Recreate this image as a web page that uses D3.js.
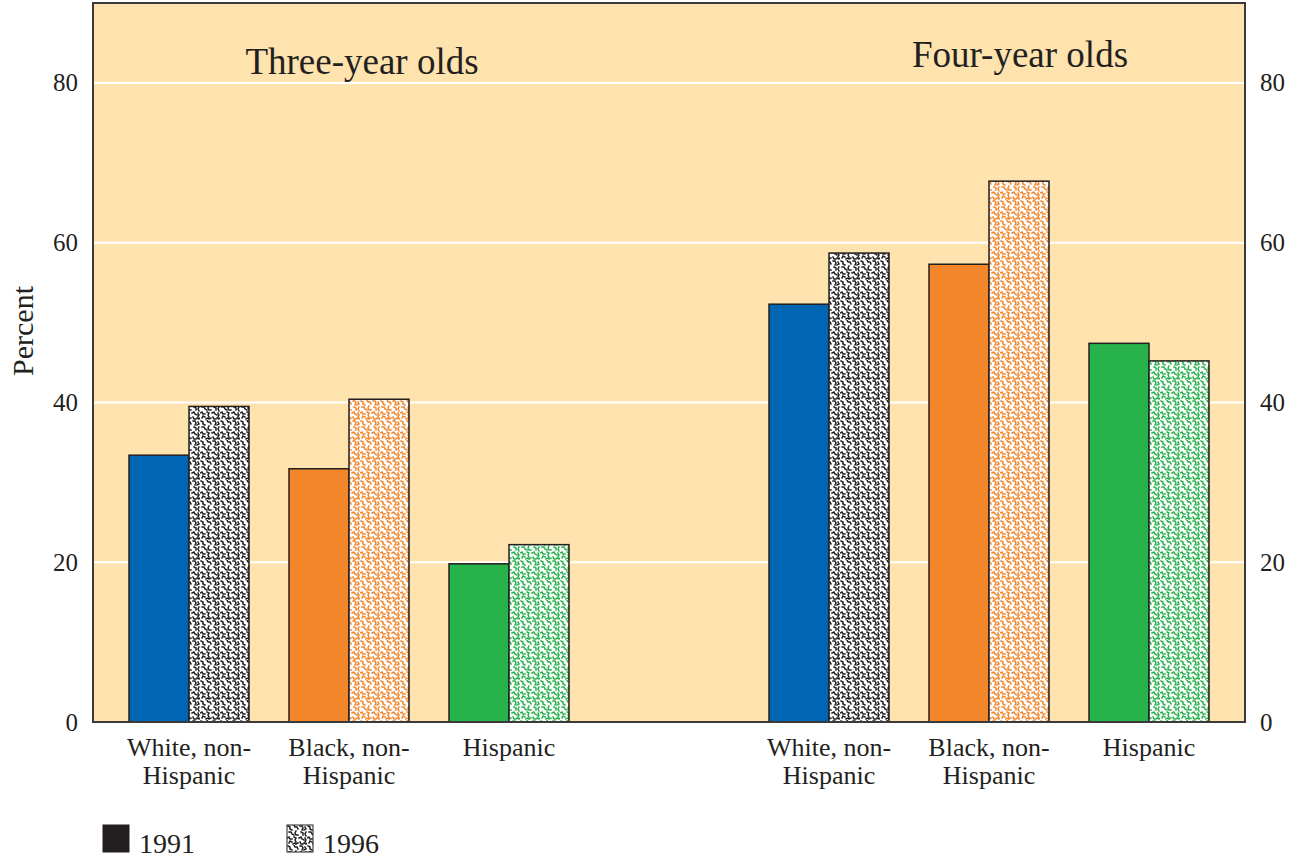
<!DOCTYPE html>
<html>
<head>
<meta charset="utf-8">
<script src="https://cdn.jsdelivr.net/npm/d3@7"></script>
<style>
  body { margin: 0; background: #fff; }
  text { font-family: "Liberation Serif", "DejaVu Serif", serif; fill: #231f20; }
</style>
</head>
<body>
<svg id="chart" width="1301" height="858"></svg>
<script>
// data
const ages = ["Three-year olds", "Four-year olds"];
const groups = ["White, non-Hispanic", "Black, non-Hispanic", "Hispanic"];
const groupLines = [["White, non-", "Hispanic"], ["Black, non-", "Hispanic"], ["Hispanic"]];
const years = ["1991", "1996"];
const three1991 = [33.4, 31.7, 19.8];
const three1996 = [39.5, 40.4, 22.2];
const four1991 = [52.3, 57.3, 47.4];
const four1996 = [58.7, 67.7, 45.2];
const yTicks = [0, 20, 40, 60, 80];
const colors = ["#0066b3", "#f3862a", "#28b24b"];
const dotColors = ["#231f20", "#f3862a", "#28b24b"];

const svg = d3.select("#chart");
const plotL = 93, plotR = 1245, plotT = 3, plotB = 722;

// slot keys, one blank slot between the two age blocks
const slots = [];
groups.forEach((g, i) => slots.push("3|" + i));
slots.push("gap");
groups.forEach((g, i) => slots.push("4|" + i));

const x = d3.scaleBand().domain(slots).range([plotL + 16, plotR - 16]).padding(0);
const y = d3.scaleLinear().domain([0, 90]).range([plotB, plotT]);
const barW = 60;

// squiggle texture for the 1996 bars
const squiggles = [
  "M1 1 l2 1 l0 2 l2 1", "M7 0 l1 2 l2 0 l1 2", "M13 1 l2 0 l1 2 l-1 2", "M18 2 l1 2 l-2 1",
  "M2 7 l2 0 l1 2 l2 1", "M9 6 l-1 2 l1 2 l2 0", "M14 7 l2 1 l0 2", "M19 7 l-1 2 l1 2",
  "M0 13 l2 -1 l1 2 l2 0", "M7 12 l2 1 l-1 2 l1 2", "M12 13 l2 -1 l1 2 l2 1", "M18 13 l1 2 l-1 2",
  "M2 18 l1 -2 l2 1", "M6 19 l2 -1 l1 1 l2 -1", "M13 17 l1 2 l2 0", "M17 18 l2 1 l1 -1"
];
const defs = svg.append("defs");
dotColors.forEach((c, i) => {
  const p = defs.append("pattern")
    .attr("id", "dots" + i)
    .attr("patternUnits", "userSpaceOnUse")
    .attr("width", 20).attr("height", 20);
  p.append("rect").attr("width", 20).attr("height", 20).attr("fill", "#fff");
  p.selectAll("path").data(squiggles).join("path")
    .attr("d", d => d)
    .attr("fill", "none")
    .attr("stroke", c)
    .attr("stroke-width", 1.5)
    .attr("stroke-linecap", "square");
});

// background
svg.append("rect")
  .attr("x", plotL).attr("y", plotT)
  .attr("width", plotR - plotL).attr("height", plotB - plotT)
  .attr("fill", "#fee3ae");

// gridlines
svg.append("g").selectAll("line").data(yTicks.filter(d => d > 0)).join("line")
  .attr("x1", plotL).attr("x2", plotR)
  .attr("y1", d => y(d)).attr("y2", d => y(d))
  .attr("stroke", "#fff").attr("stroke-width", 2);

// bars
const bars = [];
groups.forEach((g, i) => {
  bars.push({ slot: "3|" + i, year: 0, v: three1991[i], i });
  bars.push({ slot: "3|" + i, year: 1, v: three1996[i], i });
  bars.push({ slot: "4|" + i, year: 0, v: four1991[i], i });
  bars.push({ slot: "4|" + i, year: 1, v: four1996[i], i });
});
const cx = s => x(s) + x.bandwidth() / 2;
svg.append("g").selectAll("rect").data(bars).join("rect")
  .attr("x", d => d.year === 0 ? cx(d.slot) - barW : cx(d.slot))
  .attr("y", d => y(d.v))
  .attr("width", barW)
  .attr("height", d => y(0) - y(d.v))
  .attr("fill", d => d.year === 0 ? colors[d.i] : `url(#dots${d.i})`)
  .attr("stroke", "#231f20")
  .attr("stroke-width", 1.5);

// frame
svg.append("rect")
  .attr("x", plotL).attr("y", plotT)
  .attr("width", plotR - plotL).attr("height", plotB - plotT)
  .attr("fill", "none").attr("stroke", "#3a3a3a").attr("stroke-width", 2);

// y axes, both sides
const yAxisL = d3.axisLeft(y).tickValues(yTicks).tickSize(0).tickPadding(15);
const yAxisR = d3.axisRight(y).tickValues(yTicks).tickSize(0).tickPadding(15);
[svg.append("g").attr("transform", `translate(${plotL},0)`).call(yAxisL),
 svg.append("g").attr("transform", `translate(${plotR},0)`).call(yAxisR)].forEach(g => {
  g.select(".domain").remove();
  g.selectAll("text")
    .style("font-family", '"Liberation Serif", "DejaVu Serif", serif')
    .style("font-size", "25px")
    .attr("fill", "#231f20");
});

svg.append("text")
  .attr("transform", "translate(33,331) rotate(-90)")
  .attr("text-anchor", "middle")
  .style("font-size", "30px")
  .text("Percent");

// age titles
svg.append("text").attr("x", 362).attr("y", 74)
  .attr("text-anchor", "middle").style("font-size", "37px").text(ages[0]);
svg.append("text").attr("x", 1020).attr("y", 67)
  .attr("text-anchor", "middle").style("font-size", "37px").text(ages[1]);

// category labels
const labelSlots = slots.filter(s => s !== "gap");
svg.append("g").selectAll("text").data(labelSlots).join("text")
  .attr("x", d => cx(d))
  .attr("y", 756)
  .attr("text-anchor", "middle")
  .style("font-size", "26px")
  .each(function(d) {
    const lines = groupLines[+d.split("|")[1]];
    d3.select(this).selectAll("tspan").data(lines).join("tspan")
      .attr("x", cx(d))
      .attr("dy", (l, k) => k === 0 ? 0 : 28)
      .text(l => l);
  });

// legend
const legend = svg.append("g").attr("transform", "translate(103,825)");
const entries = legend.selectAll("g").data(years).join("g")
  .attr("transform", (d, i) => `translate(${i * 184},0)`);
entries.append("rect")
  .attr("width", 26).attr("height", 27)
  .attr("fill", (d, i) => i === 0 ? "#231f20" : "url(#dots0)")
  .attr("stroke", "#231f20").attr("stroke-width", 1);
entries.append("text")
  .attr("x", 36).attr("y", 28)
  .style("font-size", "28px")
  .text(d => d);
</script>
</body>
</html>
